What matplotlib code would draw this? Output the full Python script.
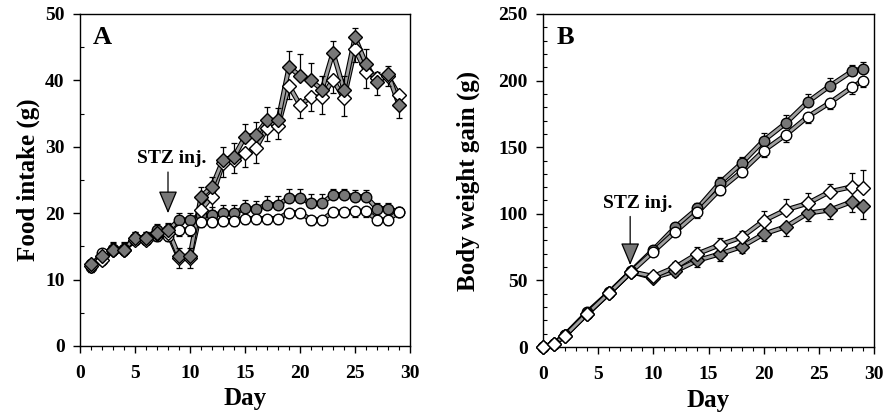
import matplotlib
matplotlib.use("Agg")
import matplotlib.pyplot as plt
import matplotlib.patheffects as pe
from matplotlib.ticker import MultipleLocator

plt.rcParams['font.family'] = ['Liberation Serif', 'DejaVu Serif']
plt.rcParams['font.weight'] = 'bold'

# ---------------- Panel A: food intake ----------------
days_a = list(range(1, 30))
a_ctrl_filled = [12.3, 13.0, 14.6, 14.6, 16.3, 16.3, 17.4, 17.4, 19.0, 19.0, 19.7, 19.7, 20.0, 20.0,
                 20.8, 20.6, 21.3, 21.3, 22.3, 22.3, 21.5, 21.5, 22.8, 22.8, 22.5, 22.5, 20.7, 20.7, 20.2]
a_ctrl_filled_err = [0.6, 1.0, 1.0, 1.0, 0.8, 0.8, 1.0, 1.0, 1.0, 1.0, 1.2, 1.2, 1.2, 1.2,
                     1.2, 1.3, 1.3, 1.3, 1.3, 1.3, 1.4, 1.4, 0.8, 0.8, 1.0, 1.0, 0.8, 0.8, 0.8]
a_ctrl_open = [11.9, 14.0, 14.5, 14.5, 16.0, 16.0, 16.6, 16.6, 17.5, 17.5, 18.7, 18.7, 18.9, 18.9,
               19.2, 19.2, 19.2, 19.2, 20.1, 20.1, 19.0, 19.0, 20.2, 20.2, 20.3, 20.3, 19.0, 19.0, 20.2]
a_ctrl_open_err = [0.8, 0.8, 0.8, 0.8, 0.7, 0.7, 0.8, 0.8, 0.9, 0.9, 0.8, 0.8, 0.8, 0.8,
                   0.8, 0.8, 0.8, 0.8, 0.8, 0.8, 0.8, 0.8, 0.8, 0.8, 0.8, 0.8, 0.8, 0.8, 0.8]
a_stz_filled = [12.3, 13.5, 14.5, 14.5, 16.3, 16.3, 17.0, 17.5, 13.5, 13.5, 22.5, 24.0, 28.0, 28.5,
                31.5, 31.8, 34.0, 34.0, 42.0, 40.7, 40.0, 38.6, 44.2, 38.6, 46.5, 42.5, 39.7, 41.0, 36.3]
a_stz_filled_err = [0.6, 1.0, 1.0, 1.0, 0.8, 0.8, 1.0, 1.0, 1.2, 1.2, 1.5, 1.5, 2.0, 2.0,
                    2.0, 2.0, 2.0, 1.8, 2.5, 3.3, 2.6, 2.0, 1.8, 2.0, 1.4, 2.3, 1.5, 1.1, 1.5]
a_stz_open = [12.0, 13.0, 14.5, 14.5, 16.0, 16.0, 16.8, 17.0, 13.2, 13.2, 20.5, 22.5, 27.5, 28.0,
              29.0, 29.8, 32.8, 33.1, 39.2, 36.3, 37.5, 37.5, 40.1, 37.3, 44.7, 41.3, 40.3, 40.6, 37.8]
a_stz_open_err = [0.8, 0.8, 0.8, 0.8, 0.7, 0.7, 0.8, 0.8, 1.5, 1.5, 1.5, 2.0, 2.0, 2.0,
                  2.0, 2.2, 2.0, 2.0, 2.0, 2.0, 2.1, 2.5, 2.0, 2.7, 2.0, 2.4, 2.5, 1.5, 3.4]

# ---------------- Panel B: body weight gain ----------------
days_b = [0, 1, 2, 4, 6, 8, 10, 12, 14, 16, 18, 20, 22, 24, 26, 28, 29]
b_ctrl_filled = [0, 2.5, 9, 26, 41, 57, 73, 90, 104, 123, 138, 155, 168, 184, 196, 207, 209]
b_ctrl_filled_err = [0, 1, 1, 2, 2, 2, 3, 3, 4, 5, 5, 6, 6, 6, 6, 5, 5]
b_ctrl_open = [0, 2.5, 9, 25, 40.5, 56.5, 71.6, 86.6, 101, 118, 131.6, 147.4, 159.2, 172.9, 183.4, 195, 200]
b_ctrl_open_err = [0, 1, 1, 2, 2, 2, 3, 3, 4, 4, 4, 5, 5, 5, 5, 5, 5]
b_stz_open = [0, 2.5, 8.5, 25, 40.5, 56.5, 53, 60, 70, 76.6, 82.4, 94.8, 102.9, 107.9, 116.6, 120.3, 119.6]
b_stz_open_err = [0, 1, 1, 2, 2, 2, 3, 4, 5, 5, 5, 7, 8, 8, 6, 10, 13]
b_stz_filled = [0, 2.5, 8.5, 25, 40.5, 56.5, 52, 57, 65, 69.8, 75.3, 84.8, 90.3, 100.4, 102.9, 109.1, 105.9]
b_stz_filled_err = [0, 1, 1, 2, 2, 2, 3, 4, 5, 5, 5, 5, 7, 6, 7, 8, 10]

# annotations
arrow_a = dict(text_xy=(8.35, 28.2), tail=(8.0, 26.2), tip=(8.0, 20.0))
arrow_b = dict(text_xy=(8.6, 107.5), tail=(7.9, 98.0), tip=(7.9, 61.5))

FILL = '#777777'
LINE_GRAY = '#a0a0a0'
line_fx = [pe.Stroke(linewidth=3.6, foreground='black'), pe.Stroke(linewidth=2.0, foreground=LINE_GRAY)]

fig = plt.figure(figsize=(8.85, 4.16), dpi=100)
axA = fig.add_axes([80/885, 1-346/416, 330/885, 332/416])
axB = fig.add_axes([543/885, 1-347/416, 331/885, 333/416])


def series(ax, x, y, err, marker, filled, up):
    ln, = ax.plot(x, y, color=LINE_GRAY, lw=2.0, zorder=2)
    ln.set_path_effects(line_fx)
    lower = [0]*len(err) if up else err
    upper = err if up else [0]*len(err)
    ax.errorbar(x, y, yerr=[lower, upper], fmt='none', ecolor='black', elinewidth=0.9,
                capsize=2.2, capthick=0.9, zorder=3)
    ms = 7.6 if marker == 'o' else 6.8
    ax.plot(x, y, linestyle='none', marker=marker, ms=ms, mfc=FILL if filled else 'white',
            mec='black', mew=1.0, zorder=4, clip_on=False)


def style(ax, ymax, ymajor, yminor, ylabel, letter, ylabel_x):
    ax.set_xlim(0, 30)
    ax.set_ylim(0, ymax)
    ax.xaxis.set_major_locator(MultipleLocator(5))
    ax.xaxis.set_minor_locator(MultipleLocator(1))
    ax.yaxis.set_major_locator(MultipleLocator(ymajor))
    ax.yaxis.set_minor_locator(MultipleLocator(yminor))
    ax.tick_params(axis='both', which='major', direction='out', length=5, width=1.0,
                   labelsize=14, pad=6)
    ax.tick_params(axis='x', which='major', pad=9)
    ax.tick_params(axis='x', which='minor', direction='out', length=3, width=0.8)
    ax.tick_params(axis='y', which='minor', direction='in', length=3, width=0.8)
    for lab in ax.get_xticklabels() + ax.get_yticklabels():
        lab.set_fontweight('bold')
    for s in ax.spines.values():
        s.set_linewidth(1.0)
    ax.set_xlabel('Day', fontsize=18, fontweight='bold')
    ax.xaxis.set_label_coords(0.5, -0.125)
    ax.set_ylabel(ylabel, fontsize=18, fontweight='bold')
    ax.yaxis.set_label_coords(ylabel_x, 0.5)
    ax.text(0.04, 0.93, letter, transform=ax.transAxes, fontsize=19, fontweight='bold',
            ha='left', va='center')


# Panel A
series(axA, days_a, a_ctrl_filled, a_ctrl_filled_err, 'o', True, True)
series(axA, days_a, a_ctrl_open, a_ctrl_open_err, 'o', False, False)
series(axA, days_a, a_stz_open, a_stz_open_err, 'D', False, False)
series(axA, days_a, a_stz_filled, a_stz_filled_err, 'D', True, True)
style(axA, 50, 10, 5, 'Food intake (g)', 'A', -0.121)

# Panel B
series(axB, days_b, b_ctrl_filled, b_ctrl_filled_err, 'o', True, True)
series(axB, days_b, b_ctrl_open, b_ctrl_open_err, 'o', False, False)
series(axB, days_b, b_stz_filled, b_stz_filled_err, 'D', True, False)
series(axB, days_b, b_stz_open, b_stz_open_err, 'D', False, True)
style(axB, 250, 50, 10, 'Body weight gain (g)', 'B', -0.19)


def stz_arrow(ax, a):
    ax.text(*a['text_xy'], 'STZ inj.', fontsize=14, fontweight='bold', ha='center', va='center',
            zorder=6)
    ax.annotate('', xy=a['tip'], xytext=a['tail'],
                arrowprops=dict(arrowstyle='-|>,head_length=1.0,head_width=0.42',
                                mutation_scale=14, lw=0.9, ec='black', fc=FILL,
                                shrinkA=0, shrinkB=0),
                zorder=6)


stz_arrow(axA, arrow_a)
stz_arrow(axB, arrow_b)

fig.savefig('out.png', dpi=100)
